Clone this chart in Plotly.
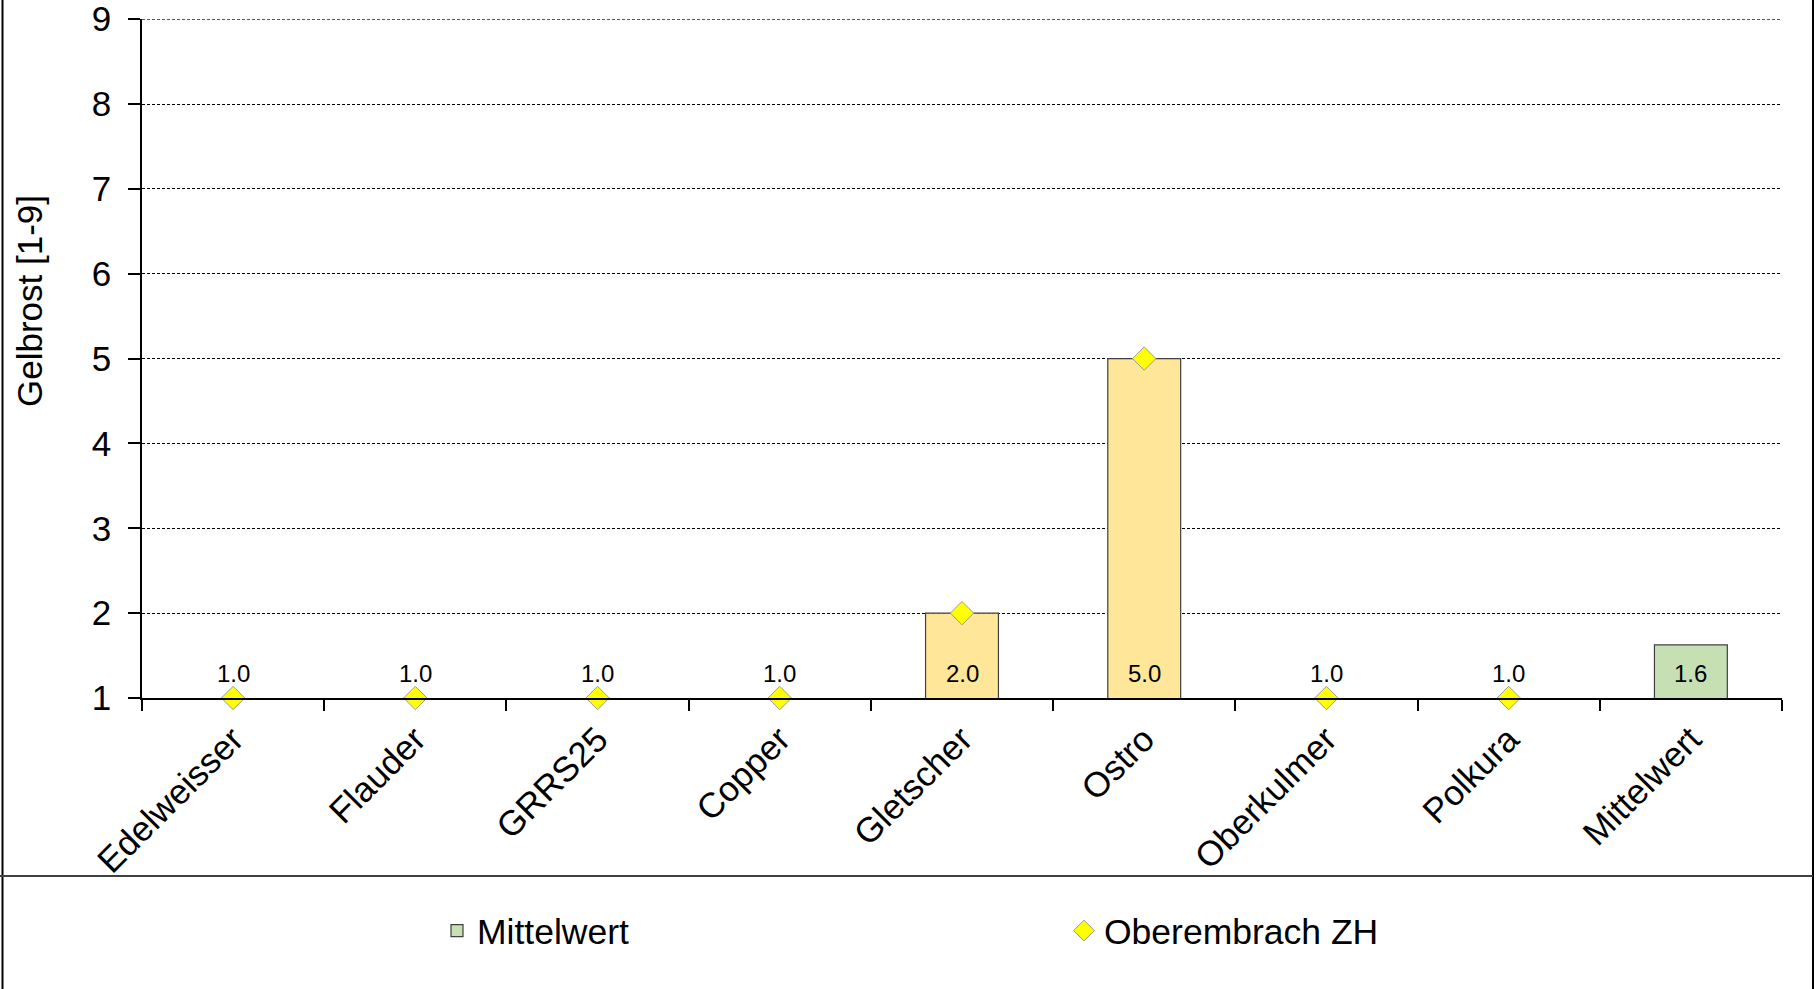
import plotly.graph_objects as go

# ---- data ----
varieties = ["Edelweisser", "Flauder", "GRRS25", "Copper", "Gletscher",
             "Ostro", "Oberkulmer", "Polkura"]
mean_label = "Mittelwert"
categories = varieties + [mean_label]
variety_means = [1.0, 1.0, 1.0, 1.0, 2.0, 5.0, 1.0, 1.0]
overall_mean = [1.625]
oberembrach = [1.0, 1.0, 1.0, 1.0, 2.0, 5.0, 1.0, 1.0]
y_ticks = [1, 2, 3, 4, 5, 6, 7, 8, 9]

FONT = "Liberation Sans, Arial, sans-serif"

# plot-area pixel geometry (used only for layout)
W, H = 1819, 989
L, R, T, B = 142, 37, 19, 291
PW, PH = W - L - R, H - T - B


def px_x(px):
    return (px - L) / PW


def px_y(py):
    return (H - B - py) / PH


fig = go.Figure()

fig.add_trace(go.Bar(
    x=varieties, y=variety_means, name="Sorten", showlegend=False,
    marker=dict(color="#FFE699",
                line=dict(color="#404040",
                          width=[1.2 if v > 1 else 0 for v in variety_means])),
))
fig.add_trace(go.Bar(
    x=[mean_label], y=overall_mean, name="Mittelwert",
    marker=dict(color="#C6E0B4", line=dict(color="#404040", width=1.2)),
))
fig.add_trace(go.Scatter(
    x=varieties, y=oberembrach, mode="markers", name="Oberembrach ZH",
    cliponaxis=False,
    marker=dict(symbol="diamond", size=18, color="#FFFF00",
                line=dict(color="#9A9A9A", width=1)),
))

# data labels
for cat, v in zip(categories, variety_means + overall_mean):
    fig.add_annotation(x=cat, y=1, text=f"{v:.1f}", showarrow=False,
                       yshift=25, yanchor="middle",
                       font=dict(family=FONT, size=24, color="#000"))

# y-axis title
fig.add_annotation(x=px_x(29), y=px_y(301), xref="paper", yref="paper",
                   text="Gelbrost [1-9]", textangle=-90, showarrow=False,
                   xanchor="center", yanchor="middle",
                   font=dict(family=FONT, size=35, color="#000"))

# top gridline (plotly drops the one on the plot edge)
fig.add_shape(type="line", xref="paper", yref="y", x0=0, x1=1,
              y0=y_ticks[-1], y1=y_ticks[-1], layer="below",
              line=dict(color="#000", width=1, dash="3px,2px"))

# chart frame
frame = dict(color="#000", width=2)
fig.add_shape(type="line", xref="paper", yref="paper",
              x0=px_x(2.5), x1=px_x(2.5), y0=px_y(1000), y1=px_y(-20), line=frame)
fig.add_shape(type="line", xref="paper", yref="paper",
              x0=px_x(1813), x1=px_x(1813), y0=px_y(1000), y1=px_y(-20), line=frame)
fig.add_shape(type="line", xref="paper", yref="paper",
              x0=px_x(0), x1=px_x(1813), y0=px_y(876), y1=px_y(876),
              line=dict(color="#404040", width=2))

fig.update_layout(
    width=W, height=H,
    margin=dict(l=L, r=R, t=T, b=B, autoexpand=False),
    paper_bgcolor="white", plot_bgcolor="white",
    barmode="overlay", bargap=0.6,
    font=dict(family=FONT, size=35, color="#000"),
    showlegend=True,
    legend=dict(orientation="h", x=px_x(437), xanchor="left",
                y=px_y(931), yanchor="middle",
                entrywidth=582, entrywidthmode="pixels",
                font=dict(family=FONT, size=35.5, color="#000"),
                bgcolor="rgba(0,0,0,0)", traceorder="normal"),
    xaxis=dict(
        type="category", categoryorder="array", categoryarray=categories,
        range=[-0.5, len(categories) - 0.5],
        showline=True, linecolor="#000", linewidth=1.5,
        ticks="outside", tickson="boundaries", ticklen=11,
        tickcolor="#000", tickwidth=1.5, ticklabelstandoff=5,
        tickangle=-45, tickfont=dict(family=FONT, size=35, color="#000"),
        showgrid=False, zeroline=False,
    ),
    yaxis=dict(
        range=[1, 9.002], tickvals=y_ticks,
        showline=True, linecolor="#000", linewidth=1.5,
        ticks="outside", ticklen=12, tickcolor="#000", tickwidth=1.5,
        ticklabelstandoff=10, ticklabeloverflow="allow",
        tickfont=dict(family=FONT, size=35, color="#000"),
        showgrid=True, gridcolor="#000", gridwidth=1, griddash="3px,2px",
        zeroline=False,
    ),
)

fig.write_html("out.html", config={"displayModeBar": False},
               post_script="document.body.style.margin='0';"
                           "document.body.style.overflow='hidden';")
